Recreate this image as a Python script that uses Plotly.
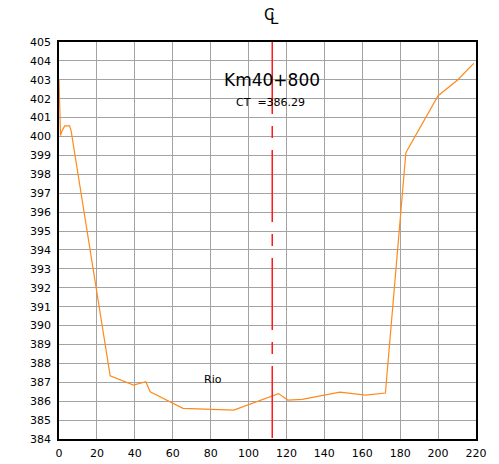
import plotly.graph_objects as go

# section profile (distance, elevation)
dist = [0, 0.4, 0.8, 1.6, 3.0, 5.6, 6.4, 27.0, 39.3, 45.8, 48.1, 65.4, 92.2,
        115.8, 120.7, 128.3, 148.2, 161.8, 172.2, 183.0, 200.0, 210.3, 218.8]
elev = [403.0, 400.4, 400.05, 400.3, 400.56, 400.56, 400.3, 387.34, 386.85,
        387.03, 386.5, 385.62, 385.53, 386.4, 386.06, 386.1, 386.48, 386.32,
        386.43, 399.15, 402.16, 402.99, 403.87]

cl_x = 112.5
x_ticks = list(range(0, 221, 20))
y_ticks = list(range(384, 406))

FONT = "DejaVu Sans"

fig = go.Figure()
fig.add_trace(go.Scatter(x=dist, y=elev, mode="lines",
                         line=dict(color="#ff8a1c", width=1.2),
                         showlegend=False, hoverinfo="skip"))

# centre line
fig.add_shape(type="line", xref="x", yref="y", x0=cl_x, x1=cl_x, y0=405, y1=384,
              line=dict(color="#ff1a1a", width=1.5, dash="72px,12px,12px,12px"))

fig.add_annotation(x=cl_x, y=403.0, xref="x", yref="y", text="Km40+800",
                   showarrow=False, font=dict(family=FONT, size=17, color="black"))
fig.add_annotation(x=cl_x - 1, y=401.8, xref="x", yref="y", text="CT  =386.29",
                   showarrow=False, font=dict(family=FONT, size=11, color="black"))
fig.add_annotation(x=81, y=387.17, xref="x", yref="y", text="Rio",
                   showarrow=False, font=dict(family=FONT, size=11, color="black"))
# CL symbol
fig.add_annotation(x=cl_x, y=1, xref="x", yref="paper", text="C", showarrow=False,
                   yanchor="middle", xshift=-3, yshift=27,
                   font=dict(family=FONT, size=15, color="black"))
fig.add_annotation(x=cl_x, y=1, xref="x", yref="paper", text="L", showarrow=False,
                   yanchor="middle", xshift=2, yshift=23,
                   font=dict(family=FONT, size=15, color="black"))

axis_common = dict(showgrid=True, gridcolor="#a3a3a3", gridwidth=1,
                   showline=True, linecolor="black", linewidth=1.5, mirror=True,
                   zeroline=False, ticks="", automargin=False,
                   tickfont=dict(family=FONT, size=11, color="black"))

fig.update_xaxes(range=[0, 220], tickvals=x_ticks, ticklabelstandoff=3, **axis_common)
fig.update_yaxes(range=[384, 405], tickvals=y_ticks, ticklabelstandoff=4, **axis_common)

# page body has an 8px margin, so the figure is shrunk to fit the window
fig.update_layout(width=491, height=456,
                  margin=dict(l=51, r=23, t=34, b=25),
                  plot_bgcolor="white", paper_bgcolor="white")

fig.write_html("out.html")
